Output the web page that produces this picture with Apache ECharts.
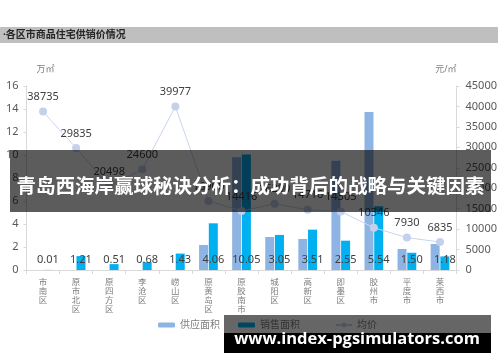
<!DOCTYPE html>
<html>
<head>
<meta charset="utf-8">
<script src="https://cdn.jsdelivr.net/npm/echarts@6/dist/echarts.min.js"></script>
<style>html,body{margin:0;padding:0;background:#fff;}#c{width:500px;height:362px;}</style>
</head>
<body>
<div id="c"></div>
<script>
const categories = ['市南区','原市北区','原四方区','李沧区','崂山区','原黄岛区','原胶南市','城阳区','高新区','即墨区','胶州市','平度市','莱西市'];
const supplyArea = [0, 0, 0, 0, 0, 2.17, 9.8, 2.87, 2.7, 9.5, 13.74, 1.83, 2.26];
const salesArea = [0.01, 1.21, 0.51, 0.68, 1.43, 4.06, 10.05, 3.05, 3.51, 2.55, 5.54, 1.50, 1.18];
const avgPrice = [38735, 29835, 20498, 24600, 39977, 16900, 14416, 16200, 14716, 14305, 10346, 7930, 6835];
const leftTicks = {min: 0, max: 16, interval: 2};
const rightTicks = {min: 0, max: 45000, interval: 5000};

const FONT = '"Noto Sans", "Noto Sans CJK SC", sans-serif';
const chart = echarts.init(document.getElementById('c'), null, {renderer: 'canvas'});
chart.setOption({
  animation: false,
  textStyle: {fontFamily: FONT},
  grid: {left: 26.5, right: 38, top: 86, bottom: 92},
  legend: [
    {data: ['供应面积'], left: 153, top: 315, itemWidth: 17, itemHeight: 5, itemGap: 2,
     textStyle: {fontSize: 10, color: '#7F7F7F', fontFamily: FONT}},
    {data: ['销售面积'], left: 233, top: 315, itemWidth: 17, itemHeight: 5, itemGap: 2,
     textStyle: {fontSize: 10, color: '#7F7F7F', fontFamily: FONT}},
    {data: ['均价'], left: 330, top: 315, itemWidth: 16, itemHeight: 6, itemGap: 2,
     textStyle: {fontSize: 10, color: '#7F7F7F', fontFamily: FONT}}
  ],
  xAxis: {
    type: 'category', data: categories,
    axisLine: {lineStyle: {color: '#D9D9D9'}},
    axisTick: {show: true, length: 4, lineStyle: {color: '#D9D9D9'}},
    axisLabel: {
      interval: 0, fontSize: 8.5, lineHeight: 9, color: '#7F7F7F', margin: 8,
      formatter: v => v.split('').join('\n')
    }
  },
  yAxis: [
    {type: 'value', min: leftTicks.min, max: leftTicks.max, interval: leftTicks.interval,
     name: '万㎡', nameGap: 12,
     nameTextStyle: {fontSize: 9, color: '#7F7F7F', align: 'left', padding: [0, 0, 0, 10]},
     axisLine: {show: true, lineStyle: {color: '#D9D9D9'}},
     axisTick: {show: true, length: 3, lineStyle: {color: '#D9D9D9'}},
     splitLine: {show: false},
     axisLabel: {fontSize: 11, color: '#595959', margin: 8}},
    {type: 'value', min: rightTicks.min, max: rightTicks.max, interval: rightTicks.interval,
     name: '元/㎡', nameGap: 12,
     nameTextStyle: {fontSize: 9, color: '#7F7F7F', align: 'right', padding: [0, 0, 0, 0]},
     axisLine: {show: true, lineStyle: {color: '#D9D9D9'}},
     axisTick: {show: true, length: 3, lineStyle: {color: '#D9D9D9'}},
     splitLine: {show: false},
     axisLabel: {fontSize: 11, color: '#595959', margin: 9, formatter: v => String(v)}}
  ],
  series: [
    {name: '供应面积', type: 'bar', data: supplyArea, barWidth: 9, barGap: '8%',
     itemStyle: {color: '#8EB4E3'}},
    {name: '销售面积', type: 'bar', data: salesArea, barWidth: 9,
     itemStyle: {color: '#00B0F0'},
     label: {show: true, position: 'insideBottom', distance: 5, fontSize: 11, color: '#404040',
       formatter: p => p.value.toFixed(2)}},
    {name: '均价', type: 'line', yAxisIndex: 1, data: avgPrice,
     symbol: 'circle', symbolSize: 8,
     itemStyle: {color: '#C5D0EC'},
     lineStyle: {color: '#C9D5EE', width: 1},
     label: {show: true, position: 'top', distance: 5, fontSize: 11, color: '#404040'}}
  ],
  graphic: [
    {type: 'rect', z: 10, shape: {x: 0, y: 27, width: 498, height: 16}, style: {fill: '#BFBFBF'}},
    {type: 'text', z: 11, x: 3, y: 35, style: {text: '·各区市商品住宅供销价情况', font: 'bold 10px ' + FONT, fill: '#262626', textVerticalAlign: 'middle'}},
    {type: 'rect', z: 100, shape: {x: 10, y: 150, width: 481, height: 62}, style: {fill: 'rgba(0,0,0,0.64)'}},
    {type: 'text', z: 101, x: 250.5, y: 186, style: {text: '青岛西海岸赢球秘诀分析：成功背后的战略与关键因素', font: 'bold 19.5px "Noto Sans CJK SC", sans-serif', fill: '#ffffff', textAlign: 'center', textVerticalAlign: 'middle'}},
    {type: 'rect', z: 100, shape: {x: 224, y: 315, width: 267, height: 18}, style: {fill: 'rgba(0,0,0,0.6)'}},
    {type: 'rect', z: 100, shape: {x: 224, y: 333, width: 267, height: 20}, style: {fill: '#000000'}},
    {type: 'text', z: 101, x: 357, y: 339, style: {text: 'www.index-pgsimulators.com', font: 'bold 16.5px "Open Sans", "DejaVu Sans", sans-serif', fill: '#ffffff', textAlign: 'center', textVerticalAlign: 'middle'}}
  ]
});
</script>
</body>
</html>
